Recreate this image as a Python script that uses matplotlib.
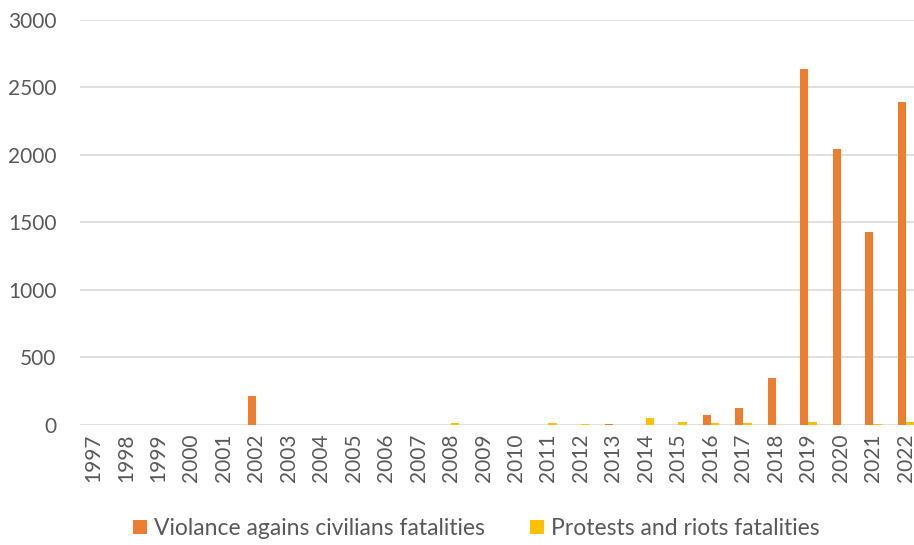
import matplotlib.pyplot as plt
import numpy as np

plt.rcParams['font.family'] = ['Lato', 'DejaVu Sans']

years = [str(y) for y in range(1997, 2023)]
violence = [0, 3, 0, 0, 0, 215, 0, 0, 0, 0, 0, 0, 0, 0, 0, 0, 8, 0, 0,
            72, 128, 345, 2640, 2045, 1430, 2390]
protests = [0, 0, 0, 0, 0, 0, 0, 0, 0, 0, 0, 15, 0, 0, 15, 5, 0, 50, 22,
            12, 12, 0, 20, 0, 5, 25]

fig = plt.figure(figsize=(9.14, 5.45), dpi=100)
ax = fig.add_axes([0.0875, 0.2202, 0.9125, 0.7431])

x = np.arange(len(years))
w = 0.25
ax.bar(x - w / 2, violence, w, color='#ED7D31', label='Violance agains civilians fatalities', zorder=3)
ax.bar(x + w / 2, protests, w, color='#FFC000', label='Protests and riots fatalities', zorder=3)

ax.set_ylim(0, 3000)
ax.set_yticks(range(0, 3001, 500))
ax.set_xlim(-0.42, 25.25)
ax.set_xticks(x)
ax.set_xticklabels(years, rotation=90)
ax.grid(axis='y', color='#D9D9D9', linewidth=1.2, zorder=0)
for s in ax.spines.values():
    s.set_visible(False)
ax.tick_params(length=0, labelsize=15, colors='#595959', pad=6)
ax.tick_params(axis='y', pad=17)

fig.legend(loc='lower center', bbox_to_anchor=(0.521, -0.027), ncol=2, frameon=False,
           fontsize=16.5, labelcolor='#595959', handlelength=0.6, handleheight=0.6,
           handletextpad=0.3, columnspacing=2.0)

fig.savefig('out.png', dpi=100)
